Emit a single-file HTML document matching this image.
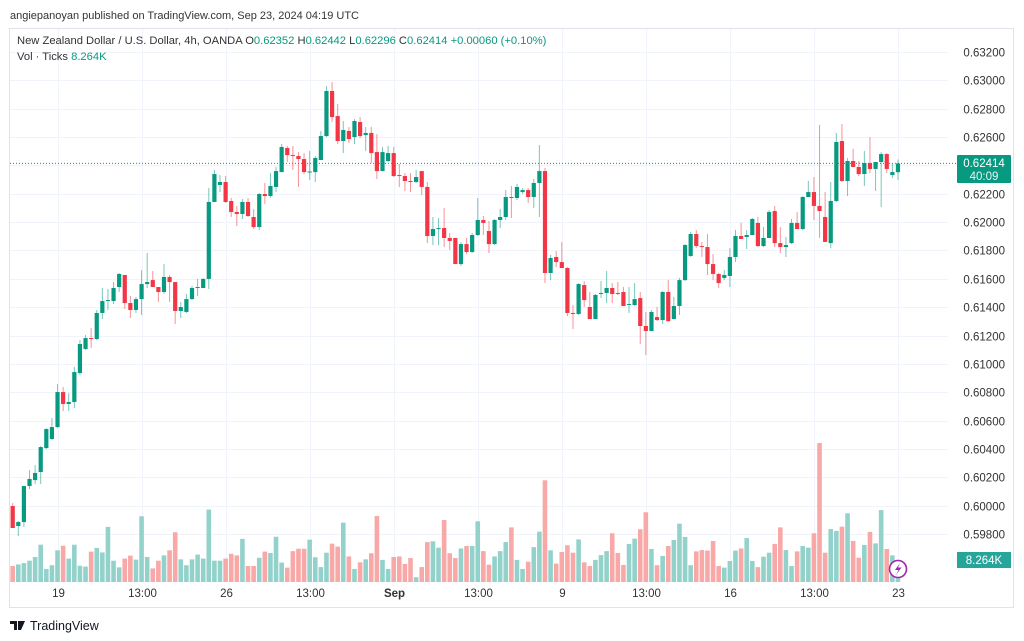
<!DOCTYPE html>
<html><head><meta charset="utf-8"><style>
html,body{margin:0;padding:0;background:#fff;width:1024px;height:641px;overflow:hidden;font-family:"Liberation Sans",sans-serif;}
svg{position:absolute;left:0;top:0}
</style></head><body>
<svg id="chart" width="1024" height="641" viewBox="0 0 1024 641">
<text x="10" y="19" font-size="11" fill="#333">angiepanoyan published on TradingView.com, Sep 23, 2024 04:19 UTC</text>
<rect x="9.5" y="28.5" width="1004" height="579" fill="#fff" stroke="#e0e3eb"/>
<g id="grid"></g>
<g id="vols"></g>
<g id="candles"></g>
<g id="yaxis"></g>
<g id="xaxis"></g>
<g font-size="11.2">
<text x="17" y="44" fill="#333">New Zealand Dollar / U.S. Dollar, 4h, OANDA  <tspan fill="#333">O</tspan><tspan fill="#089981">0.62352</tspan>  <tspan fill="#333">H</tspan><tspan fill="#089981">0.62442</tspan>  <tspan fill="#333">L</tspan><tspan fill="#089981">0.62296</tspan>  <tspan fill="#333">C</tspan><tspan fill="#089981">0.62414</tspan>  <tspan fill="#089981">+0.00060 (+0.10%)</tspan></text>
<text x="17" y="60" fill="#333">Vol · Ticks <tspan fill="#089981">8.264K</tspan></text>
</g>
<g>
<rect x="957" y="155" width="54" height="28" rx="1" fill="#089981"/>
<text x="984" y="167" font-size="11.5" fill="#fff" text-anchor="middle">0.62414</text>
<text x="984" y="180" font-size="11.5" fill="#e6f5f2" text-anchor="middle">40:09</text>
</g>
<g>
<rect x="957" y="552" width="54" height="16" fill="#26a69a"/>
<text x="984" y="564" font-size="11.5" fill="#fff" text-anchor="middle">8.264K</text>
</g>
<g>
<circle cx="898" cy="569" r="8.5" fill="#fff" stroke="#9c27b0" stroke-width="1.6"/>
<path d="M900 563 L895 570 L898.5 570 L896 575 L901.5 567.5 L898 567.5 Z" fill="#9c27b0"/>
</g>
<g>
<path d="M10 621 h7 v9 h-3 v-6 h-4 z M18 621 h7 l-4 9 h-3 z" fill="#131722"/>
<circle cx="19.5" cy="622.5" r="1.5" fill="#131722"/>
<text x="30" y="630" font-size="12.5" fill="#131722">TradingView</text>
</g>
</svg>
<script>
// prices in units of 0.00001
const opens=[59997,59856,59884,60138,60180,60237,60406,60470,60554,60801,60717,60731,60935,61105,61182,61175,61359,61443,61443,61542,61627,61429,61380,61457,61563,61591,61542,61507,61613,61577,61373,61366,61457,61535,61535,61599,62142,62262,62283,62149,62071,62057,62142,62036,61965,62198,62184,62248,62353,62523,62473,62466,62445,62353,62353,62438,62607,62925,62748,62572,62643,62600,62706,62614,62629,62494,62360,62431,62487,62332,62325,62290,62283,62360,62248,61902,61951,61958,61888,61888,61704,61845,61789,61909,62015,61937,61845,62015,62036,62177,62170,62212,62226,62177,62276,62360,61641,61754,61718,61676,61359,61352,61556,61401,61316,61493,61500,61535,61500,61507,61415,61415,61464,61267,61232,61330,61309,61507,61316,61408,61591,61761,61916,61831,61824,61704,61634,61606,61620,61754,61902,61895,61909,61994,61831,61888,62078,61852,61824,61852,61994,61951,62177,62212,62114,62036,61852,62149,62572,62290,62431,62389,62339,62417,62375,62424,62480,62332,62352];
const highs=[60018,59891,60138,60251,60286,60420,60547,60618,60858,60837,60794,60978,61168,61203,61253,61380,61535,61528,61577,61641,61627,61479,61472,61662,61782,61655,61542,61704,61627,61577,61436,61493,61549,61599,61606,62241,62368,62332,62325,62170,62114,62163,62170,62092,62205,62276,62346,62389,62551,62537,62537,62494,62487,62502,62466,62643,62960,62988,62833,62713,62671,62727,62741,62671,62671,62621,62530,62537,62530,62410,62346,62346,62368,62360,62283,62036,62029,62099,61923,61888,61860,61888,61923,62170,62043,62008,62022,62092,62226,62255,62269,62241,62241,62304,62544,62382,61768,61796,61860,61683,61415,61570,61584,61507,61493,61584,61655,61570,61577,61542,61542,61570,61507,61366,61380,61401,61514,61591,61472,61606,61845,61930,61944,61860,61916,61775,61641,61662,61817,61944,61994,61944,62029,62036,61965,62085,62114,61965,61895,62022,62071,62184,62290,62318,62685,62212,62283,62629,62692,62452,62516,62431,62502,62600,62424,62494,62487,62417,62442];
const lows=[59842,59785,59849,60117,60152,60152,60399,60463,60547,60667,60667,60688,60921,61098,61112,61168,61316,61380,61422,61507,61387,61323,61359,61345,61535,61542,61436,61493,61436,61281,61323,61359,61450,61479,61535,61528,62142,62212,62135,62036,61972,62022,62036,61951,61944,62128,62170,62212,62353,62424,62368,62248,62339,62297,62283,62438,62600,62706,62551,62487,62558,62551,62593,62502,62417,62304,62360,62424,62318,62248,62219,62212,62276,62191,61852,61838,61838,61824,61803,61704,61690,61775,61782,61902,61909,61782,61838,61958,62015,62029,62156,62198,62135,62099,62036,61570,61591,61683,61676,61337,61246,61345,61401,61316,61316,61464,61429,61429,61486,61408,61359,61408,61140,61062,61232,61302,61281,61295,61316,61345,61584,61754,61817,61754,61627,61591,61535,61591,61542,61718,61881,61810,61909,61824,61824,61888,61824,61782,61754,61845,61951,61944,62177,62015,61888,61860,61817,62142,62283,62184,62389,62325,62255,62346,62219,62106,62346,62311,62296];
const closes=[59842,59884,60138,60188,60230,60413,60540,60554,60801,60717,60731,60942,61140,61182,61175,61359,61443,61450,61535,61634,61429,61380,61457,61563,61577,61542,61507,61613,61577,61373,61401,61457,61535,61542,61599,62142,62339,62283,62142,62071,62057,62142,62043,61965,62198,62184,62255,62360,62530,62473,62466,62445,62353,62357,62452,62607,62925,62741,62572,62650,62586,62713,62607,62629,62487,62360,62494,62487,62325,62325,62290,62283,62318,62248,61902,61951,61958,61888,61867,61704,61845,61789,61909,62015,61994,61845,62015,62036,62177,62170,62248,62226,62177,62276,62360,61641,61747,61718,61676,61359,61352,61563,61450,61316,61486,61500,61535,61493,61493,61408,61422,61457,61267,61232,61366,61309,61507,61302,61408,61591,61838,61916,61831,61824,61704,61634,61570,61627,61754,61902,61881,61909,62022,61831,61888,62071,61852,61824,61838,61994,61951,62177,62212,62114,62078,61860,62149,62565,62290,62431,62389,62339,62417,62375,62424,62480,62375,62353,62414];
// volume in thousands of ticks
const volumes=[6.0,6.6,7.1,8.0,9.4,14.0,4.9,6.3,11.9,13.6,8.8,14.0,6.1,5.8,11.4,12.8,11.1,20.7,8.0,5.5,8.8,9.9,8.4,24.7,9.4,5.1,8.0,10.0,11.9,18.7,8.5,6.3,8.5,10.3,8.8,27.2,8.0,8.0,8.8,10.6,10.0,16.2,6.0,6.0,9.1,11.4,10.9,17.0,7.3,5.4,11.6,12.5,12.5,15.9,9.3,5.6,11.0,14.4,13.3,22.3,9.6,4.9,7.4,8.5,10.8,24.8,8.3,4.9,9.4,9.6,6.8,9.0,1.8,5.6,15.0,15.3,12.9,23.3,10.8,9.0,12.6,13.5,13.5,22.8,11.6,6.5,9.6,11.6,15.0,20.5,8.3,4.9,7.6,13.1,18.9,38.2,11.9,6.9,11.3,13.8,11.0,16.0,7.4,6.0,8.3,10.1,11.6,18.3,10.9,6.4,14.3,16.3,19.8,26.2,12.4,6.3,9.8,13.5,15.8,21.9,16.9,6.3,11.5,12.0,11.8,15.4,6.0,5.4,7.9,11.8,12.6,16.5,7.9,5.6,9.5,11.0,14.3,20.5,12.0,6.0,11.5,13.5,12.9,18.3,52.2,11.0,19.9,19.2,20.8,25.8,15.4,9.1,13.9,18.8,14.5,27.0,12.4,10.0,8.264];
const priceTicks=[0.632,0.630,0.628,0.626,0.624,0.622,0.620,0.618,0.616,0.614,0.612,0.610,0.608,0.606,0.604,0.602,0.600,0.598];
const timeLabels=["19","13:00","26","13:00","Sep","13:00","9","13:00","16","13:00","23"];
const timeLabelIndex=[8,23,38,53,68,83,98,113,128,143,158];
const lastPrice=0.62414;

const NS="http://www.w3.org/2000/svg";
function mk(tag,attrs,parent){const e=document.createElementNS(NS,tag);for(const k in attrs)e.setAttribute(k,attrs[k]);parent.appendChild(e);return e;}
function xAt(i){return 12.7+i*5.603;}
function yP(p){return 52+(0.632-p)*14175;}
function yV(v){return 582-v/0.3756;}
const grid=document.getElementById('grid'),vols=document.getElementById('vols'),cg=document.getElementById('candles'),ya=document.getElementById('yaxis'),xa=document.getElementById('xaxis');

priceTicks.forEach(function(t){
  const y=Math.round(yP(t))+0.5;
  const l=mk('line',{x1:10,x2:948,y1:y,y2:y,stroke:'#f0f3fa','stroke-width':1},grid);
  
  
  const tx=mk('text',{x:1005,y:y+4,'font-size':11.5,fill:'#333','text-anchor':'end'},ya);
  tx.textContent=t.toFixed(5);
  
  
});
timeLabels.forEach(function(lbl,k){
  const x=Math.round(xAt(timeLabelIndex[k]))+0.5;
  const l=mk('line',{x1:x,x2:x,y1:29,y2:582,stroke:'#f0f3fa','stroke-width':1},grid);
  
  
  const tx=mk('text',{x:x,y:597,'font-size':11.5,fill:'#333','text-anchor':'middle','font-weight':lbl==='Sep'?'bold':'normal'},xa);
  tx.textContent=lbl;
  
  
});
const ly=yP(lastPrice);
const pl=mk('line',{x1:10,x2:956,y1:ly,y2:ly,stroke:'#089981','stroke-width':1,'stroke-dasharray':'1,2'},grid);



for(let i=0;i<closes.length;i++){
  const up=closes[i]>=opens[i];
  const x=xAt(i);
  const vy=yV(volumes[i]);
  const vb=mk('rect',{x:x-2.3,y:vy,width:4.6,height:582-vy,fill:up?'#93d2cb':'#f7a8a7'},vols);
  
  
  const col=up?'#089981':'#f23645';
  const o=yP(opens[i]/1e5),c=yP(closes[i]/1e5),h=yP(highs[i]/1e5),lo=yP(lows[i]/1e5);
  const w=mk('line',{x1:x,x2:x,y1:h,y2:lo,stroke:col,'stroke-width':1,'stroke-opacity':0.55},cg);
  
  
  const top=Math.min(o,c),bh=Math.max(1,Math.abs(o-c));
  const b=mk('rect',{x:x-2.1,y:top,width:4.2,height:bh,fill:col},cg);
  
  
}
</script>
</body></html>
